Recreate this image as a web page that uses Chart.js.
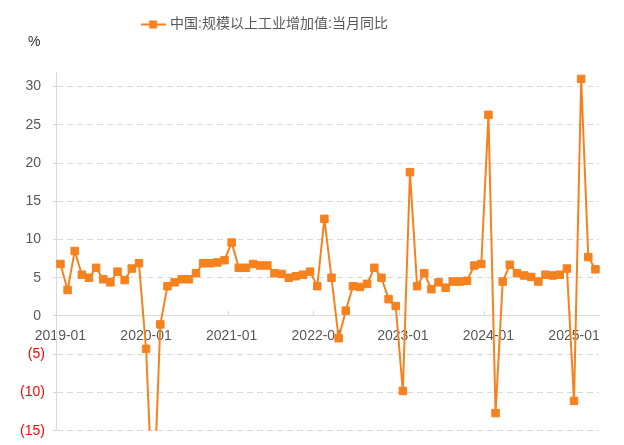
<!DOCTYPE html>
<html>
<head>
<meta charset="utf-8">
<script src="https://cdn.jsdelivr.net/npm/chart.js@4.4.1/dist/chart.umd.min.js"></script>
<style>
  html, body { margin: 0; padding: 0; background: #fff; }
  #wrap { width: 624px; height: 445px; }
</style>
</head>
<body>
<div id="wrap"><canvas id="myChart"></canvas></div>
<script>
var seriesName = '中国:规模以上工业增加值:当月同比';
var unitLabel = '%';

var months = [
  '2019-01','2019-02','2019-03','2019-04','2019-05','2019-06','2019-07','2019-08','2019-09','2019-10','2019-11','2019-12',
  '2020-01','2020-02','2020-03','2020-04','2020-05','2020-06','2020-07','2020-08','2020-09','2020-10','2020-11','2020-12',
  '2021-01','2021-02','2021-03','2021-04','2021-05','2021-06','2021-07','2021-08','2021-09','2021-10','2021-11','2021-12',
  '2022-01','2022-02','2022-03','2022-04','2022-05','2022-06','2022-07','2022-08','2022-09','2022-10','2022-11','2022-12',
  '2023-01','2023-02','2023-03','2023-04','2023-05','2023-06','2023-07','2023-08','2023-09','2023-10','2023-11','2023-12',
  '2024-01','2024-02','2024-03','2024-04','2024-05','2024-06','2024-07','2024-08','2024-09','2024-10','2024-11','2024-12',
  '2025-01','2025-02','2025-03','2025-04'
];

var growth = [
  6.8, 3.4, 8.5, 5.4, 5.0, 6.3, 4.8, 4.4, 5.8, 4.7, 6.2, 6.9,
  -4.3, -25.9, -1.1, 3.9, 4.4, 4.8, 4.8, 5.6, 6.9, 6.9, 7.0, 7.3,
  9.6, 6.3, 6.3, 6.8, 6.6, 6.6, 5.6, 5.5, 5.0, 5.2, 5.4, 5.8,
  3.9, 12.7, 5.0, -2.9, 0.7, 3.9, 3.8, 4.2, 6.3, 5.0, 2.2, 1.3,
  -9.8, 18.8, 3.9, 5.6, 3.5, 4.4, 3.7, 4.5, 4.5, 4.6, 6.6, 6.8,
  26.3, -12.7, 4.5, 6.7, 5.6, 5.3, 5.1, 4.5, 5.4, 5.3, 5.4, 6.2,
  -11.1, 31.0, 7.7, 6.1
];

var xTickLabels = ['2019-01','2020-01','2021-01','2022-01','2023-01','2024-01','2025-01'];
var yTickValues = [-15, -10, -5, 0, 5, 10, 15, 20, 25, 30];

var orange = '#F5821F';
var gridGray = '#d9d9d9';
var textGray = '#595959';

Chart.defaults.font.family = "'Liberation Sans', 'Noto Sans CJK SC', sans-serif";
Chart.defaults.font.size = 14;

// legend marker: line with a square in the middle
var legendMark = document.createElement('canvas');
legendMark.width = 25;
legendMark.height = 10;
var lm = legendMark.getContext('2d');
lm.fillStyle = orange;
lm.fillRect(0, 4, 25, 2);
lm.fillRect(8.5, 1, 8, 8);

// legend is not centred on the canvas in the original, % sits above the y labels
var boxShift = {
  id: 'boxShift',
  afterLayout: function (chart) {
    var lg = chart.legend;
    lg.left = 0;
    lg.right = 531;
    lg.width = 531;
    chart.boxes.forEach(function (b) {
      if (b !== lg && b.options && b.options.text === unitLabel) {
        b.left = 28;
      }
    });
  }
};

var ctx = document.getElementById('myChart').getContext('2d');

new Chart(ctx, {
  type: 'line',
  data: {
    labels: months,
    datasets: [{
      label: seriesName,
      data: growth,
      borderColor: orange,
      backgroundColor: orange,
      borderWidth: 2,
      borderJoinStyle: 'round',
      pointStyle: 'rect',
      pointRadius: 5.3,
      pointBorderWidth: 1,
      pointBackgroundColor: orange,
      pointBorderColor: orange,
      tension: 0
    }]
  },
  options: {
    responsive: true,
    maintainAspectRatio: false,
    animation: false,
    events: [],
    layout: {
      padding: { top: 7.5, right: 25, bottom: 13, left: 12 }
    },
    scales: {
      x: {
        type: 'category',
        position: { y: 0 },
        offset: true,
        grid: {
          display: true,
          offset: true,
          drawOnChartArea: false,
          tickLength: -5,
          color: function (c) {
            return xTickLabels.indexOf(months[c.index]) >= 0 ? gridGray : 'rgba(0,0,0,0)';
          }
        },
        border: { display: true, color: gridGray, width: 1 },
        ticks: {
          autoSkip: false,
          maxRotation: 0,
          padding: 17,
          color: textGray,
          callback: function (val) {
            var lab = this.getLabelForValue(val);
            return xTickLabels.indexOf(lab) >= 0 ? lab : '';
          }
        }
      },
      y: {
        min: -15,
        max: 31.8,
        afterBuildTicks: function (scale) {
          scale.ticks = yTickValues.map(function (v) { return { value: v }; });
        },
        grid: {
          color: gridGray,
          lineWidth: 1,
          tickLength: 4,
          tickColor: gridGray
        },
        border: { display: true, color: gridGray, width: 1, dash: [6, 4] },
        ticks: {
          padding: 8,
          font: { size: 14, lineHeight: 0.9 },
          color: function (c) { return c.tick && c.tick.value < 0 ? '#FF0000' : textGray; },
          callback: function (v) { return v < 0 ? '(' + (-v) + ')' : v + ' '; }
        }
      }
    },
    plugins: {
      legend: {
        display: true,
        position: 'top',
        labels: {
          color: textGray,
          usePointStyle: true,
          pointStyle: legendMark,
          pointStyleWidth: 20,
          font: { size: 14 }
        }
      },
      subtitle: {
        display: true,
        text: unitLabel,
        align: 'start',
        weight: 500,
        color: '#333333',
        font: { size: 14 },
        padding: { top: -7.5, bottom: 22 }
      },
      tooltip: { enabled: false }
    }
  },
  plugins: [boxShift]
});
</script>
</body>
</html>
